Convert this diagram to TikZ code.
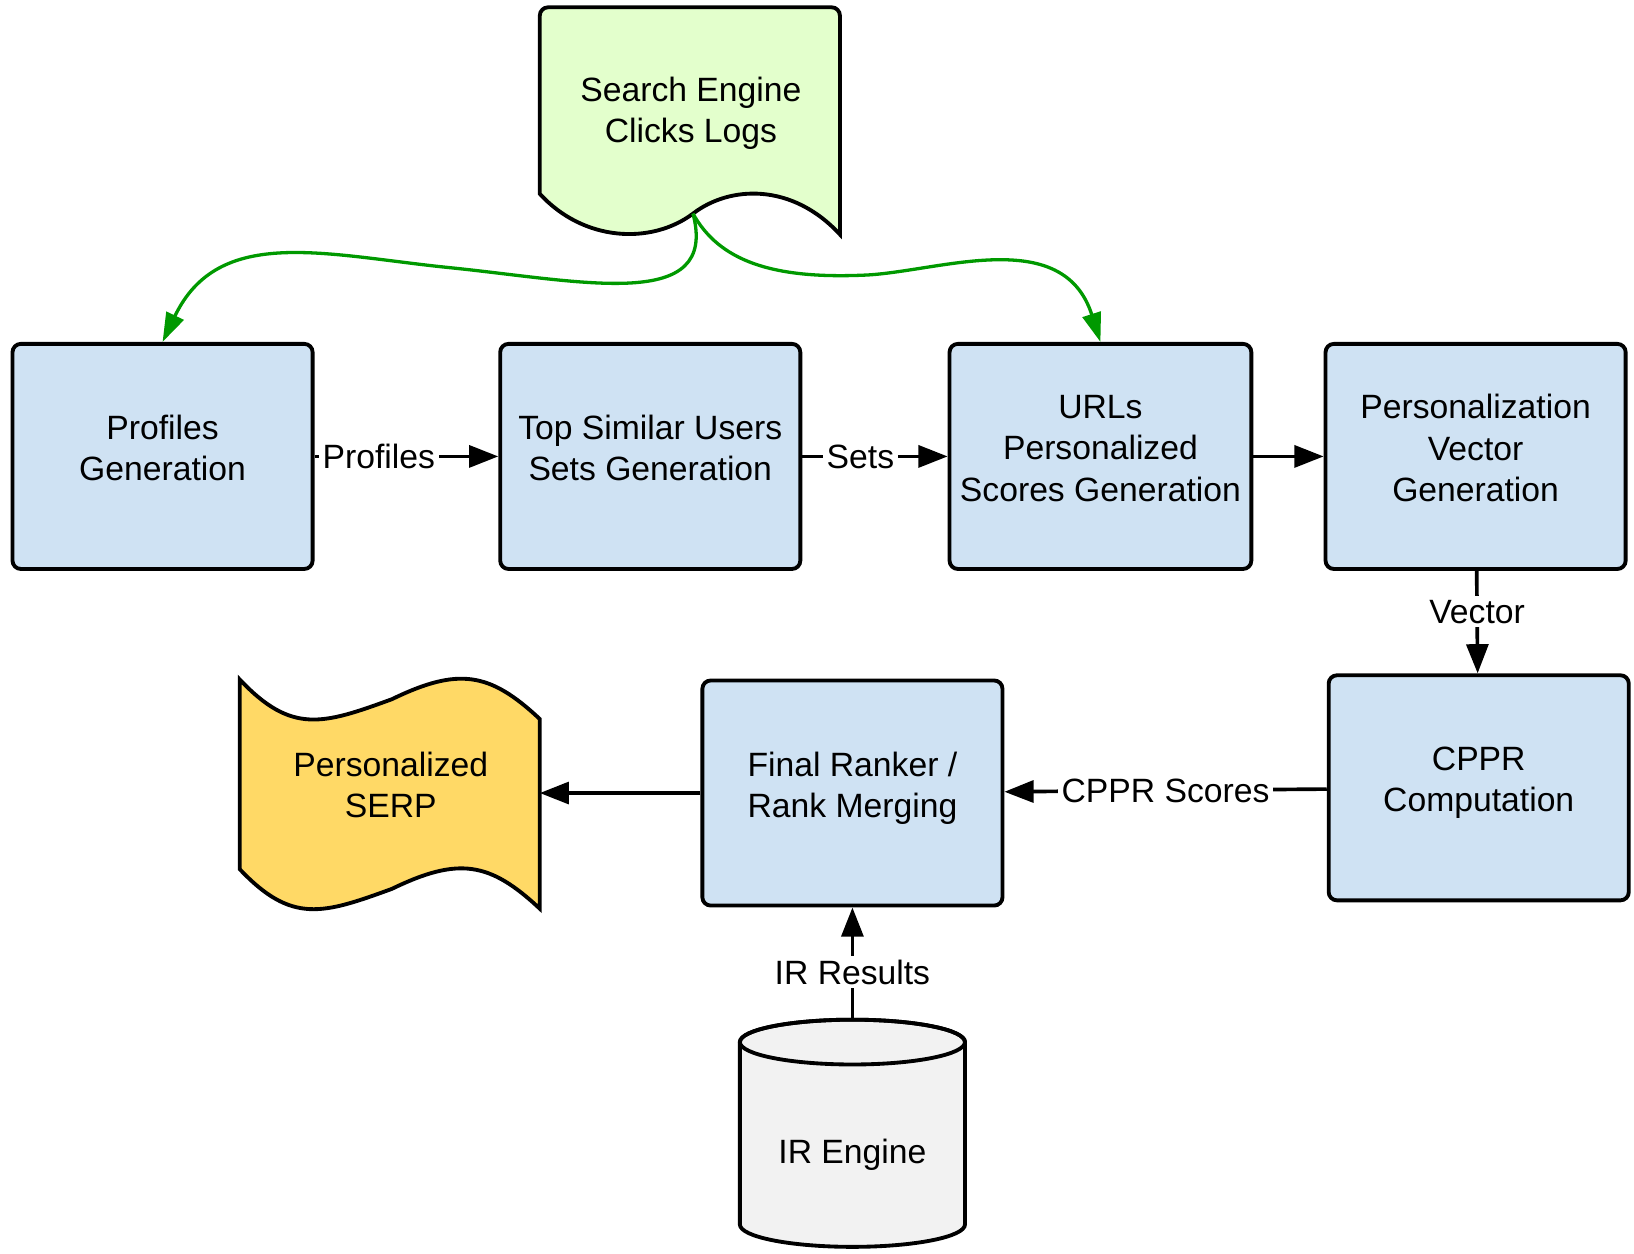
\documentclass[tikz,border=0pt]{standalone}
\usepackage{fontspec}
\setmainfont{Liberation Sans}
\usetikzlibrary{arrows.meta}
\definecolor{boxblue}{HTML}{CFE2F3}
\definecolor{logsgreen}{HTML}{E3FFCC}
\definecolor{serpyellow}{HTML}{FFD966}
\definecolor{dbgray}{HTML}{F2F2F2}
\definecolor{feedgreen}{HTML}{009900}
\begin{document}
\begin{tikzpicture}[x=0.1mm,y=-0.1mm,font=\fontsize{9.2pt}{11.3pt}\selectfont,
		stage/.style={draw,line width=1.05pt,fill=boxblue,rounded corners=0.8mm,minimum width=28.8mm,minimum height=21.6mm,align=center,inner sep=1mm,execute at end node={\rule[-1.6mm]{0pt}{1.6mm}}},
		caption/.style={align=center,inner sep=0pt},
		lbl/.style={fill=white,inner sep=1pt},
		flow/.style={line width=1pt,-{Triangle[length=2.8mm,width=2.1mm]}},
		feed/.style={line width=0.9pt,draw=feedgreen,-{Triangle[length=2.8mm,width=1.8mm]}}]
		\useasboundingbox (0,0) rectangle (1568,1203);
		\draw[line width=1.05pt,fill=logsgreen] (518,100) [rounded corners=0.8mm] -- (518,7) -- (806,7) -- (806,120) [sharp corners] -- (806,225) .. controls (760,175) and (700,178) .. (665,205) .. controls (625,235) and (560,232) .. (518,186) -- cycle;
		\draw[line width=1.05pt,fill=serpyellow] (230,652) .. controls (280,705) and (310,695) .. (376,671) .. controls (440,640) and (470,645) .. (518,690) -- (518,872) .. controls (470,827) and (440,822) .. (376,853) .. controls (310,877) and (280,887) .. (230,834) -- cycle;
		\draw[line width=1.05pt,fill=dbgray] (710,1000) -- (710,1175) arc[start angle=180,end angle=0,x radius=108,y radius=21.5] -- (926,1000) arc[start angle=0,end angle=-180,x radius=108,y radius=21.5] -- cycle;
		\draw[line width=1.05pt] (818,1000) ellipse[x radius=108,y radius=21.5];
		\node[caption] (logs) at (663,109) {Search Engine\\Clicks Logs};
		\coordinate (logs-out) at (665,205);
		\node[stage] (prof) at (156,438) {Profiles\\Generation};
		\node[stage] (topsim) at (624,438) {Top Similar Users\\Sets Generation};
		\node[stage] (urls) at (1056,438) {URLs\\Personalized\\Scores Generation};
		\node[stage] (pvec) at (1416,438) {Personalization\\Vector\\Generation};
		\node[stage] (cppr) at (1419,756) {CPPR\\Computation};
		\node[stage] (rank) at (818,761) {Final Ranker /\\Rank Merging};
		\node[caption] (serp) at (375,753) {Personalized\\SERP};
		\coordinate (serp-in) at (518,761);
		\node (irdb) at (818,1108) {IR Engine};
		\coordinate (irdb-out) at (818,978);
		\draw[feed] (logs-out) .. controls (690,300) and (560,270) .. (433,257) .. controls (313,245) and (210,215) .. (prof.north);
		\draw[feed] (logs-out) .. controls (690,250) and (740,268) .. (830,264) .. controls (900,261) and (1020,215) .. (urls.north);
		\draw[flow] (prof) -- node[lbl,pos=0.35] (prof-lbl) {Profiles} (topsim);
		\draw[flow] (topsim) -- node[lbl,pos=0.4] (sets-lbl) {Sets} (urls);
		\draw[flow] (urls) -- (pvec);
		\draw[flow] (pvec) -- node[lbl,pos=0.4] (vec-lbl) {Vector} (cppr);
		\draw[flow] (cppr) -- node[lbl,pos=0.5] (cppr-lbl) {CPPR Scores} (rank);
		\draw[flow] (rank) -- (serp-in);
		\draw[flow] (irdb-out) -- node[lbl,pos=0.42] (ir-lbl) {IR Results} (rank);
	\end{tikzpicture}
\end{document}
